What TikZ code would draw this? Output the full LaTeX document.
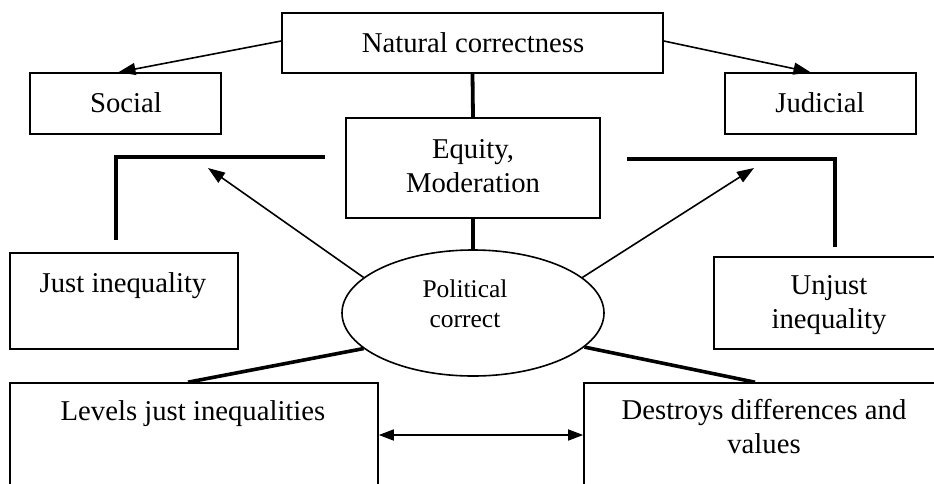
\documentclass[tikz,border=0pt]{standalone}
\usepackage{fontspec}
\setmainfont{Liberation Serif}
\usetikzlibrary{arrows.meta,shapes.geometric,calc}
\tikzset{
  box/.style={draw, line width=1.6pt, inner sep=0pt, rectangle},
  oval/.style={draw, line width=1.6pt, inner sep=0pt, ellipse},
  txt/.style={inner sep=0pt, align=center, font=\fontsize{28.7}{33.5}\selectfont},
  smalltxt/.style={inner sep=0pt, align=center, font=\fontsize{25.5}{30}\selectfont},
  thin arrow/.style={line width=1.6pt, -{Triangle[length=17pt,width=12pt]}},
  both arrow/.style={line width=1.6pt, {Triangle[length=15pt,width=11pt]}-{Triangle[length=15pt,width=11pt]}},
  thick line/.style={line width=3.8pt},
  bracket/.style={line width=3.8pt, line join=miter}
}
\begin{document}
\begin{tikzpicture}[x=1pt,y=-1pt]
\useasboundingbox (0,0) rectangle (934,483);
\fill[white] (0,0) rectangle (934,483);
\clip (0,0) rectangle (934,483);
% boxes
\node[box, minimum width=381pt, minimum height=60pt] (nat) at (472.5,43) {};
\node[box, minimum width=191pt, minimum height=61pt] (soc) at (125.5,103.5) {};
\node[box, minimum width=191pt, minimum height=61pt] (jud) at (820.5,103.5) {};
\node[box, minimum width=254pt, minimum height=100pt] (eq) at (473,168) {};
\node[oval, minimum width=262pt, minimum height=126pt] (pc) at (473,313) {};
\node[box, minimum width=228pt, minimum height=96pt] (just) at (124,301) {};
\node[box, minimum width=230pt, minimum height=92pt] (unjust) at (829,303) {};
\node[box, minimum width=368pt, minimum height=127pt] (levels) at (194,446.5) {};
\node[box, minimum width=360pt, minimum height=127pt] (destr) at (764,446.5) {};
% texts (anchor=base is the baseline of the last line)
\node[txt, anchor=base] (tnat) at (473,52) {Natural correctness};
\node[txt, anchor=base] (tsoc) at (126,112) {Social};
\node[txt, anchor=base] (tjud) at (820,112) {Judicial};
\node[txt, anchor=base] (teq) at (473,192) {Equity,\\Moderation};
\node[smalltxt, anchor=base] (tpc) at (465,327) {Political\\correct};
\node[txt, anchor=base] (tjust) at (123,292) {Just inequality};
\node[txt, anchor=base] (tunjust) at (829,328) {Unjust\\inequality};
\node[txt, anchor=base] (tlevels) at (193,420) {Levels just inequalities};
\node[txt, anchor=base] (tdestr) at (764,453) {Destroys differences and\\values};
% arrows from natural correctness
\draw[thin arrow] ($(nat.west)+(0,-2)$) -- ($(soc.north)+(-7,0)$);
\draw[thin arrow] ($(nat.east)+(0,-2)$) -- ($(jud.north)+(-10,0)$);
% thick vertical spine
\draw[thick line] (nat.south) -- (eq.north);
\draw[thick line] (eq.south) -- (pc.north);
% brackets
\coordinate (lb1) at (325,157);
\coordinate (lb2) at (116,157);
\coordinate (lb3) at (116,240);
\draw[bracket] (lb1) -- (lb2) -- (lb3);
\coordinate (rb1) at (627,159);
\coordinate (rb2) at (835,159);
\coordinate (rb3) at (835,247);
\draw[bracket] (rb1) -- (rb2) -- (rb3);
% diagonal arrows from ellipse
\coordinate (ltip) at (208,168);
\coordinate (rtip) at (754,168);
\draw[thin arrow] (pc.162) -- (ltip);
\draw[thin arrow] (pc.18) -- (rtip);
% thick lines to bottom boxes
\draw[line width=3.6pt] (pc.198) -- ($(levels.north)+(-6,0)$);
\draw[line width=3.6pt] (pc.-17) -- ($(destr.north)+(-9,0)$);
% double arrow
\coordinate (ay) at (0,435);
\draw[both arrow] (levels.east |- ay) -- (destr.west |- ay);
\end{tikzpicture}
\end{document}
